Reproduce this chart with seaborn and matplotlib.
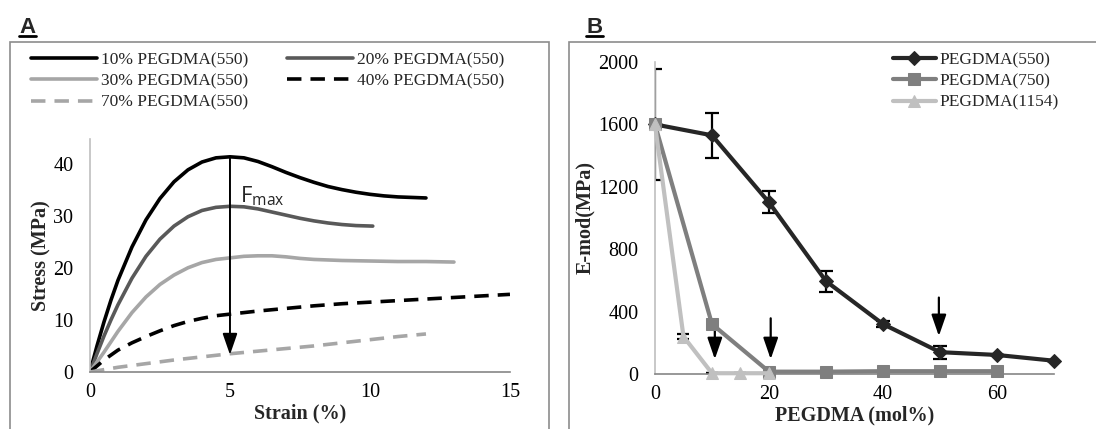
import numpy as np
import pandas as pd
import matplotlib
matplotlib.use('Agg')
import matplotlib.pyplot as plt
import seaborn as sns
from matplotlib.patches import Rectangle

# ----------------------- panel A : stress-strain curves

strain_10 = [0, 0.25, 0.5, 0.75, 1, 1.5, 2, 2.5, 3, 3.5, 4, 4.5, 5, 5.5, 6, 6.5, 7,
	7.5, 8, 8.5, 9, 9.5, 10, 10.5, 11, 11.5, 12]
stress_10 = [0, 5, 9.6, 13.8, 17.6, 24, 29.2, 33.3, 36.5, 38.8, 40.3, 41.1, 41.3, 41.1, 40.4, 39.4, 38.3,
	37.3, 36.4, 35.6, 35, 34.5, 34.1, 33.8, 33.6, 33.5, 33.4]

strain_20 = [0, 0.25, 0.5, 0.75, 1, 1.5, 2, 2.5, 3, 3.5, 4, 4.5, 5, 5.5, 6, 6.5, 7,
	7.5, 8, 8.5, 9, 9.5, 10.1]
stress_20 = [0, 3.5, 6.9, 10, 12.9, 18, 22.2, 25.5, 28, 29.8, 31, 31.6, 31.8, 31.7, 31.3, 30.7, 30.1,
	29.5, 29, 28.6, 28.3, 28.1, 28]

strain_30 = [0, 0.5, 1, 1.5, 2, 2.5, 3, 3.5, 4, 4.5, 5, 5.5, 6, 6.5, 7, 7.5, 8, 9, 10, 11, 12, 13]
stress_30 = [0, 3.8, 7.8, 11.4, 14.4, 16.8, 18.6, 20, 21, 21.6, 21.9, 22.2, 22.3, 22.3, 22.1, 21.8, 21.6,
	21.4, 21.3, 21.2, 21.2, 21.1]

strain_40 = [0, 0.5, 1, 1.5, 2, 2.5, 3, 3.5, 4, 4.5, 5, 6, 7, 8, 9, 10, 11, 12, 13, 14, 15]
stress_40 = [0, 2.3, 4.2, 5.6, 6.8, 7.9, 8.9, 9.7, 10.3, 10.8, 11.1, 11.7, 12.2, 12.7, 13.1, 13.4,
	13.7, 14, 14.3, 14.6, 14.9]

strain_70 = [0, 1, 2, 3, 4, 5, 6, 7, 8, 9, 10, 11, 12]
stress_70 = [0, 0.9, 1.6, 2.3, 2.9, 3.5, 4, 4.5, 5, 5.6, 6.2, 6.8, 7.3]

labels_a = ['10% PEGDMA(550)', '20% PEGDMA(550)', '30% PEGDMA(550)',
            '40% PEGDMA(550)', '70% PEGDMA(550)']

# ----------------------- panel B : modulus vs PEGDMA content

mol_550 = [0, 10, 20, 30, 40, 50, 60, 70]
emod_550 = [1600, 1530, 1100, 595, 320, 140, 122, 85]
err_550 = [355, 145, 70, 68, 20, 42, 0, 0]

mol_750 = [0, 10, 20, 30, 40, 50, 60]
emod_750 = [1600, 320, 15, 15, 18, 18, 18]

mol_1154 = [0, 5, 10, 15, 20]
emod_1154 = [1600, 240, 5, 5, 5]
err_1154 = [0, 15, 0, 0, 0]

labels_b = ['PEGDMA(550)', 'PEGDMA(750)', 'PEGDMA(1154)']

# arrows in B: (x, y_start, y_end)
arrows_b = [(10.5, 340, 95), (20.3, 357, 95), (49.8, 490, 243)]

# -----------------------

sns.set_style('white')
plt.rcParams['font.family'] = ['Liberation Serif', 'DejaVu Serif']
plt.rcParams['mathtext.fontset'] = 'custom'
plt.rcParams['mathtext.rm'] = 'Open Sans'

fig = plt.figure(figsize=(10.96, 4.29), dpi=100)

# panel frames
fig.add_artist(Rectangle((0.0095, -0.1), 0.491, 1.003, transform=fig.transFigure,
	fill=False, ec='#8c8c8c', lw=1.2))
fig.add_artist(Rectangle((0.519, -0.1), 0.6, 1.003, transform=fig.transFigure,
	fill=False, ec='#8c8c8c', lw=1.2))

for x0, lab in [(0.0173, 'A'), (0.5347, 'B')]:
	fig.text(x0, 0.923, lab, fontsize=16, fontweight='bold', family='Liberation Sans',
		ha='left', va='baseline')
	fig.add_artist(plt.Line2D([x0, x0 + 0.0155], [0.916, 0.916], color='black', lw=2.0,
		transform=fig.transFigure))

fs_tick = 14.5
fs_leg = 12.5

# ----------------------- A

axA = fig.add_axes([0.0821, 0.1329, 0.3832, 0.5441])

dfA = pd.concat([
	pd.DataFrame({'strain': s, 'stress': v, 'series': lab})
	for s, v, lab in zip([strain_10, strain_20, strain_30, strain_40, strain_70],
		[stress_10, stress_20, stress_30, stress_40, stress_70], labels_a)])

pal_a = dict(zip(labels_a, ['#000000', '#595959', '#a6a6a6', '#000000', '#a6a6a6']))
dash_a = dict(zip(labels_a, ['', '', '', (4, 2.5), (4, 2.5)]))

sns.lineplot(data=dfA, x='strain', y='stress', hue='series', style='series',
	palette=pal_a, dashes=dash_a, lw=2.6, ax=axA, sort=False, estimator=None)

axA.set_xlim(0, 15)
axA.set_ylim(0, 44.8)
axA.set_xticks([0, 5, 10, 15])
axA.set_yticks([0, 10, 20, 30, 40])
axA.set_xlabel('Strain (%)', fontsize=fs_tick, fontweight='bold', labelpad=1)
axA.set_ylabel('Stress (MPa)', fontsize=fs_tick, fontweight='bold', labelpad=1)

axA.annotate('', xy=(5, 3.3), xytext=(5, 41.3),
	arrowprops=dict(arrowstyle='-|>,head_width=0.45,head_length=1.3', color='black',
		lw=1.4, shrinkA=0, shrinkB=0))
axA.text(5.35, 32.6, r'F$_{\mathrm{max}}$', fontsize=16, family='Open Sans',
	ha='left', va='baseline')

# row-major order like the original legend
hA, lA = axA.get_legend_handles_labels()
axA.legend_.remove()
order = [0, 2, 4, 1, 3]
fig.legend([hA[i] for i in order], [lA[i] for i in order], loc='upper left',
	bbox_to_anchor=(0.022, 0.895), ncol=2, frameon=False, fontsize=fs_leg,
	handlelength=3.8, columnspacing=2.2, labelspacing=0.3, handletextpad=0.25,
	borderaxespad=0)

# ----------------------- B

axB = fig.add_axes([0.5976, 0.1282, 0.3641, 0.7273])

dfB = pd.concat([
	pd.DataFrame({'mol': m, 'emod': v, 'series': lab})
	for m, v, lab in zip([mol_550, mol_750, mol_1154], [emod_550, emod_750, emod_1154], labels_b)])

pal_b = dict(zip(labels_b, ['#262626', '#7f7f7f', '#c0c0c0']))
mark_b = dict(zip(labels_b, ['D', 's', '^']))

axB.errorbar(mol_550, emod_550, yerr=err_550, fmt='none', ecolor='black',
	elinewidth=1.6, capsize=5, capthick=1.6, zorder=1)
axB.errorbar(mol_1154, emod_1154, yerr=err_1154, fmt='none', ecolor='black',
	elinewidth=1.6, capsize=4, capthick=1.6, zorder=1)

# later series sit on top, as in the original
for i, lab in enumerate(labels_b):
	sns.lineplot(data=dfB[dfB['series'] == lab], x='mol', y='emod', color=pal_b[lab],
		marker=mark_b[lab], markersize=9 if i > 0 else 7,
		markeredgecolor=pal_b[lab], lw=3, ax=axB, label=lab, sort=False, estimator=None,
		clip_on=False, zorder=3 + i)

for x, y0, y1 in arrows_b:
	axB.annotate('', xy=(x, y1), xytext=(x, y0),
		arrowprops=dict(arrowstyle='-|>,head_width=0.45,head_length=1.3', color='black',
			lw=1.6, shrinkA=0, shrinkB=0))

axB.set_xlim(0, 70)
axB.set_ylim(0, 2000)
axB.set_xticks([0, 20, 40, 60])
axB.set_yticks([0, 400, 800, 1200, 1600, 2000])
axB.set_xlabel('PEGDMA (mol%)', fontsize=fs_tick, fontweight='bold', labelpad=1)
axB.set_ylabel('E-mod(MPa)', fontsize=fs_tick, fontweight='bold', labelpad=2)

axB.legend(loc='upper left', bbox_to_anchor=(0.808, 0.895),
	bbox_transform=fig.transFigure, frameon=False, fontsize=fs_leg, handlelength=2.5,
	labelspacing=0.3, handletextpad=0.2, borderaxespad=0)

for ax in (axA, axB):
	sns.despine(ax=ax)
	ax.spines['left'].set_color('#bfbfbf')
	ax.spines['bottom'].set_color('#868686')
	ax.spines['left'].set_linewidth(1.2)
	ax.spines['bottom'].set_linewidth(1.2)
	ax.tick_params(axis='x', labelsize=fs_tick, direction='out', length=5, width=1.2,
		colors='#868686', labelcolor='black', pad=3)
	ax.tick_params(axis='y', labelsize=fs_tick, direction='out', length=5, width=1.2,
		colors='#bfbfbf', labelcolor='black', pad=7)
	ax.set_facecolor('none')

plt.savefig('out.png', dpi=100)
